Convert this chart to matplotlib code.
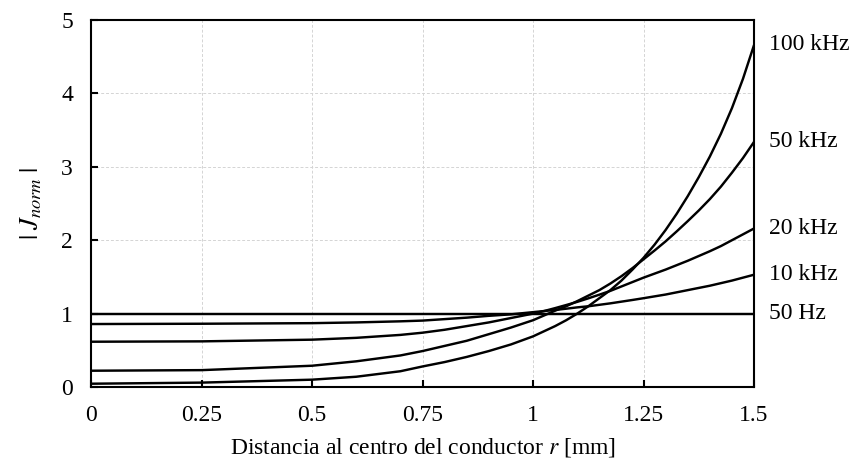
import numpy as np
import matplotlib
matplotlib.use("Agg")
import matplotlib.pyplot as plt

# === DATA ===
r_mm = [0.0, 0.25, 0.5, 0.6, 0.7, 0.75, 0.8, 0.85, 0.9, 0.95, 1.0,
        1.025, 1.05, 1.075, 1.1, 1.125, 1.15, 1.175, 1.2, 1.225, 1.25,
        1.275, 1.3, 1.325, 1.35, 1.375, 1.4, 1.425, 1.45, 1.475, 1.5]

j_50hz = [1.0] * len(r_mm)
j_10khz = [0.858, 0.862, 0.87, 0.88, 0.895, 0.905, 0.925, 0.945, 0.97, 0.99, 1.02,
           1.035, 1.05, 1.067, 1.085, 1.10, 1.12, 1.14, 1.163, 1.186, 1.21,
           1.235, 1.26, 1.29, 1.32, 1.35, 1.38, 1.415, 1.45, 1.49, 1.53]
j_20khz = [0.617, 0.622, 0.645, 0.67, 0.71, 0.74, 0.78, 0.83, 0.88, 0.94, 1.0,
           1.035, 1.075, 1.117, 1.16, 1.208, 1.258, 1.31, 1.37, 1.43, 1.49,
           1.545, 1.60, 1.66, 1.72, 1.785, 1.85, 1.92, 2.0, 2.08, 2.16]
j_50khz = [0.222, 0.23, 0.29, 0.35, 0.43, 0.49, 0.56, 0.63, 0.72, 0.81, 0.91,
           0.975, 1.04, 1.10, 1.17, 1.245, 1.32, 1.41, 1.51, 1.62, 1.74,
           1.86, 1.985, 2.12, 2.26, 2.405, 2.56, 2.73, 2.92, 3.12, 3.34]
j_100khz = [0.045, 0.06, 0.10, 0.14, 0.215, 0.28, 0.34, 0.41, 0.49, 0.58, 0.69,
            0.76, 0.83, 0.91, 1.0, 1.10, 1.21, 1.32, 1.45, 1.60, 1.76,
            1.94, 2.14, 2.36, 2.60, 2.86, 3.14, 3.45, 3.80, 4.20, 4.66]

series = [("100 kHz", j_100khz), ("50 kHz", j_50khz), ("20 kHz", j_20khz),
          ("10 kHz", j_10khz), ("50 Hz", j_50hz)]

x_ticks = [0, 0.25, 0.5, 0.75, 1, 1.25, 1.5]
x_tick_labels = ["0", "0.25", "0.5", "0.75", "1", "1.25", "1.5"]
y_ticks = [0, 1, 2, 3, 4, 5]

# === STYLE ===
plt.rcParams['font.family'] = ['Liberation Serif', 'DejaVu Serif']
plt.rcParams['mathtext.fontset'] = 'stix'
FS = 17

fig = plt.figure(figsize=(8.53, 4.62), dpi=100)
ax = fig.add_axes([0.1067, 0.1623, 0.7773, 0.7944])

for label, vals in series:
    ax.plot(r_mm, vals, color='black', lw=1.75, solid_capstyle='butt',
            solid_joinstyle='round')
    ax.annotate(label, xy=(r_mm[-1], vals[-1]), xytext=(11, 0),
                textcoords='offset points', va='center', ha='left',
                fontsize=FS, annotation_clip=False)

ax.set_xlim(0, 1.5)
ax.set_ylim(0, 5)
ax.set_xticks(x_ticks)
ax.set_xticklabels(x_tick_labels)
ax.set_yticks(y_ticks)

ax.grid(True, color='#d4d4d4', linestyle=(0, (3, 2)), linewidth=0.7)
ax.set_axisbelow(True)

for sp in ax.spines.values():
    sp.set_linewidth(1.5)
    sp.set_color('black')

ax.tick_params(axis='both', direction='in', length=5, width=1.5,
               top=False, right=False, labelsize=FS)
ax.tick_params(axis='x', pad=13)
ax.tick_params(axis='y', pad=13)

ax.set_xlabel(r"Distancia al centro del conductor $r$ [mm]", fontsize=FS, labelpad=7)
ax.set_ylabel(r"$|\;J_{norm}\;|$", fontsize=19, labelpad=12)

fig.savefig("out.png", dpi=100)
